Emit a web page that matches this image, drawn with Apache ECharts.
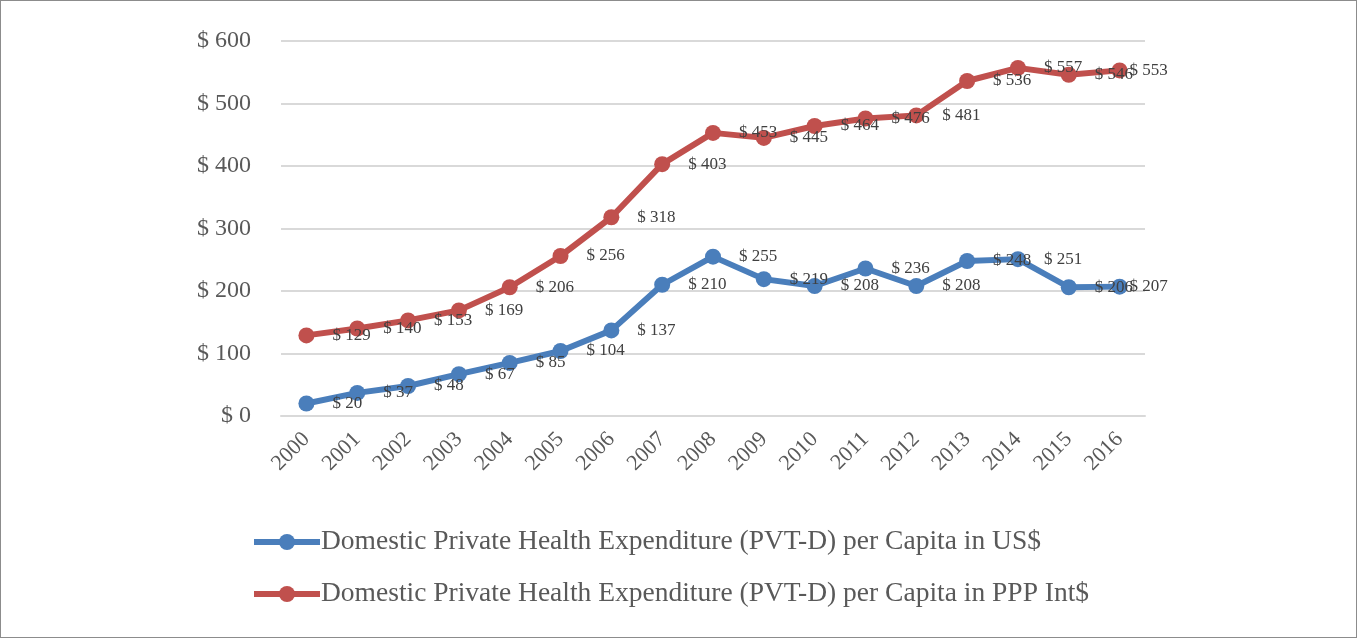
<!DOCTYPE html>
<html>
<head>
<meta charset="utf-8">
<script src="https://cdn.jsdelivr.net/npm/echarts@6/dist/echarts.min.js"></script>
<style>
  html, body { margin: 0; padding: 0; background: #fff; }
  #chart { width: 1355px; height: 636px; border: 1px solid #8c8c8c; }
</style>
</head>
<body>
<div id="chart"></div>
<script>
const years = ['2000', '2001', '2002', '2003', '2004', '2005', '2006', '2007', '2008',
  '2009', '2010', '2011', '2012', '2013', '2014', '2015', '2016']
const usdValues = [20, 37, 48, 67, 85, 104, 137, 210, 255, 219, 208, 236, 208, 248, 251, 206, 207]
const pppValues = [129, 140, 153, 169, 206, 256, 318, 403, 453, 445, 464, 476, 481, 536, 557, 546, 553]
const seriesNames = [
  'Domestic Private Health Expenditure (PVT-D) per Capita in US$',
  'Domestic Private Health Expenditure (PVT-D) per Capita in PPP Int$'
]

const font = '"Liberation Serif", "DejaVu Serif", serif'
const textColor = '#595959'

// last point label sits closer to its marker, like the original
const withLabels = (values) =>
  values.map((v, i) =>
    i === values.length - 1 ? { value: v, label: { distance: 2 } } : v
  )

const makeSeries = (name, values, color) => ({
  name,
  type: 'line',
  data: withLabels(values),
  symbol: 'circle',
  symbolSize: 16,
  lineStyle: { width: 6, color },
  itemStyle: { color },
  label: {
    show: true,
    position: 'right',
    distance: 18,
    offset: [0, 3],
    formatter: (p) => '$ ' + p.value,
    fontFamily: font,
    fontSize: 17,
    color: '#404040'
  },
  labelLayout: { hideOverlap: false }
})

const chart = echarts.init(document.getElementById('chart'))
chart.setOption({
  animation: false,
  grid: { left: 280, right: 211, top: 40, bottom: 221 },
  legend: {
    orient: 'vertical',
    left: 250,
    top: 527,
    padding: 0,
    itemWidth: 66,
    itemHeight: 20,
    itemGap: 24,
    lineStyle: { width: 6 },
    textStyle: { fontFamily: font, fontSize: 27.5, color: textColor, padding: [0, 0, 0, -4] },
    data: seriesNames
  },
  xAxis: {
    type: 'category',
    data: years,
    axisLine: { lineStyle: { color: '#d9d9d9', width: 2 } },
    axisTick: { show: false },
    axisLabel: {
      rotate: 45,
      margin: 20,
      fontFamily: font,
      fontSize: 22,
      color: textColor
    }
  },
  yAxis: {
    type: 'value',
    min: 0,
    max: 600,
    interval: 100,
    axisLine: { show: false },
    axisTick: { show: false },
    splitLine: { lineStyle: { color: '#d9d9d9', width: 2 } },
    axisLabel: {
      margin: 30,
      fontFamily: font,
      fontSize: 24,
      color: textColor,
      formatter: (v) => '$ ' + v
    }
  },
  series: [
    makeSeries(seriesNames[0], usdValues, '#4a7ebb'),
    makeSeries(seriesNames[1], pppValues, '#c0504d')
  ]
})
</script>
</body>
</html>
